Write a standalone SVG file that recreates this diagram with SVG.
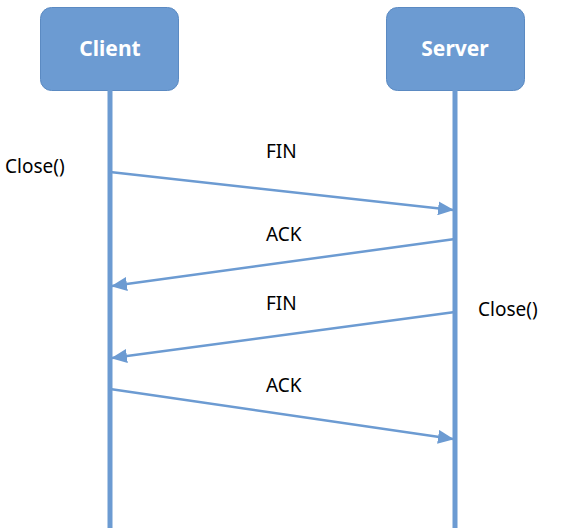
<svg xmlns="http://www.w3.org/2000/svg" width="568" height="532" viewBox="0 0 568 532">
<style>
.box{fill:#6C9BD2;stroke:#5B8AC2;stroke-width:1}
.title{font-family:"Noto Sans","Liberation Sans",sans-serif;font-size:21px;font-weight:bold;fill:#fff;text-anchor:middle}
.life{stroke:#6C9BD2;stroke-width:5}
.msg{stroke:#6C9BD2;stroke-width:2.5;fill:none;marker-end:url(#ah)}
.lbl{font-family:"Noto Sans","Liberation Sans",sans-serif;font-size:19px;fill:#000}
</style>
<defs>
<marker id="ah" markerUnits="userSpaceOnUse" markerWidth="16" markerHeight="14" refX="15" refY="7" orient="auto">
<path d="M0,0 L16,7 L0,14 Z" fill="#6C9BD2"/>
</marker>
</defs>
<g id="client">
<rect class="box" x="40.5" y="7.5" width="138" height="83" rx="11"/>
<text class="title" x="110" y="56">Client</text>
<line class="life" x1="110" y1="90" x2="110" y2="528"/>
</g>
<g id="server">
<rect class="box" x="386.5" y="7.5" width="138" height="83" rx="11"/>
<text class="title" x="455" y="56">Server</text>
<line class="life" x1="455" y1="90" x2="455" y2="528"/>
</g>
<g id="connectors">
<line class="msg" x1="110" y1="172" x2="453" y2="210"/>
<line class="msg" x1="455" y1="239" x2="112" y2="286"/>
<line class="msg" x1="455" y1="312" x2="112" y2="358"/>
<line class="msg" x1="110" y1="389" x2="453" y2="439"/>
</g>
<g id="labels">
<text class="lbl" x="5" y="173">Close()</text>
<text class="lbl" x="478" y="316">Close()</text>
<text class="lbl" x="266" y="158">FIN</text>
<text class="lbl" x="266" y="241">ACK</text>
<text class="lbl" x="266" y="310">FIN</text>
<text class="lbl" x="266" y="392">ACK</text>
</g>
</svg>
